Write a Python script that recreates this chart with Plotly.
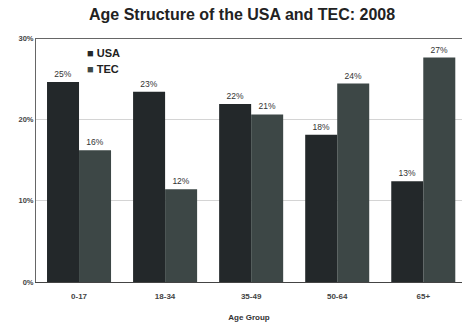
import plotly.graph_objects as go

categories = ["0-17", "18-34", "35-49", "50-64", "65+"]
usa_values = [24.6, 23.4, 21.9, 18.1, 12.4]
tec_values = [16.2, 11.4, 20.6, 24.4, 27.6]
usa_labels = ["25%", "23%", "22%", "18%", "13%"]
tec_labels = ["16%", "12%", "21%", "24%", "27%"]
y_ticks = [0, 10, 20, 30]
y_tick_labels = ["0%", "10%", "20%", "30%"]
series_names = ["USA", "TEC"]
series_colors = ["#23282a", "#3d4746"]

font_family = "Liberation Sans, Arial, sans-serif"

fig = go.Figure()
for name, vals, labels, color in zip(series_names, [usa_values, tec_values],
                                     [usa_labels, tec_labels], series_colors):
    fig.add_trace(go.Bar(
        x=categories, y=vals, name=name,
        marker=dict(color=color, line=dict(width=0)),
        text=labels, textposition="outside",
        textfont=dict(size=8.5, color="#333333", family=font_family),
        cliponaxis=False, showlegend=False,
    ))

# compact legend drawn as text
legend_y = [0.938, 0.873]
for name, color, ly in zip(series_names, series_colors, legend_y):
    fig.add_annotation(
        xref="paper", yref="paper", x=0.116, y=ly, xanchor="left", yanchor="middle",
        text=f"<span style='color:{color}'>■</span> <b>{name}</b>",
        showarrow=False, font=dict(size=11, color="#222222", family=font_family),
        bgcolor="white",
    )

fig.update_layout(
    width=462, height=326,
    margin=dict(l=36, r=0, t=38, b=44),
    paper_bgcolor="white", plot_bgcolor="white",
    barmode="group", bargap=0.256, bargroupgap=0,
    title=dict(text="<b>Age Structure of the USA and TEC: 2008</b>",
               x=0.524, xanchor="center", y=0.955, yanchor="middle",
               font=dict(size=16, color="#222222", family=font_family)),
    font=dict(family=font_family),
    uniformtext=dict(minsize=7, mode="show"),
)
fig.update_xaxes(
    range=[-0.5, 4.45], showgrid=False,
    showline=True, linecolor="#444444", linewidth=1,
    ticks="", tickfont=dict(size=8, color="#444444", family=font_family),
    ticklabelstandoff=6,
    tickprefix="<b>", ticksuffix="</b>",
    title=dict(text="<b>Age Group</b>", standoff=14,
               font=dict(size=8, color="#333333", family=font_family)),
)
fig.update_yaxes(
    range=[0, 30], tickvals=y_ticks, ticktext=["<b>" + t + "</b>" for t in y_tick_labels],
    showgrid=True, gridcolor="#d4d4d4", gridwidth=1,
    showline=True, linecolor="#666666", linewidth=1,
    mirror=False, zeroline=False,
    tickfont=dict(size=7.5, color="#444444", family=font_family),
    ticks="", ticklen=0,
)
fig.add_shape(type="line", xref="paper", yref="y", x0=0, x1=1, y0=30, y1=30,
              line=dict(color="#333333", width=1.5))

fig.write_html("out.html")
